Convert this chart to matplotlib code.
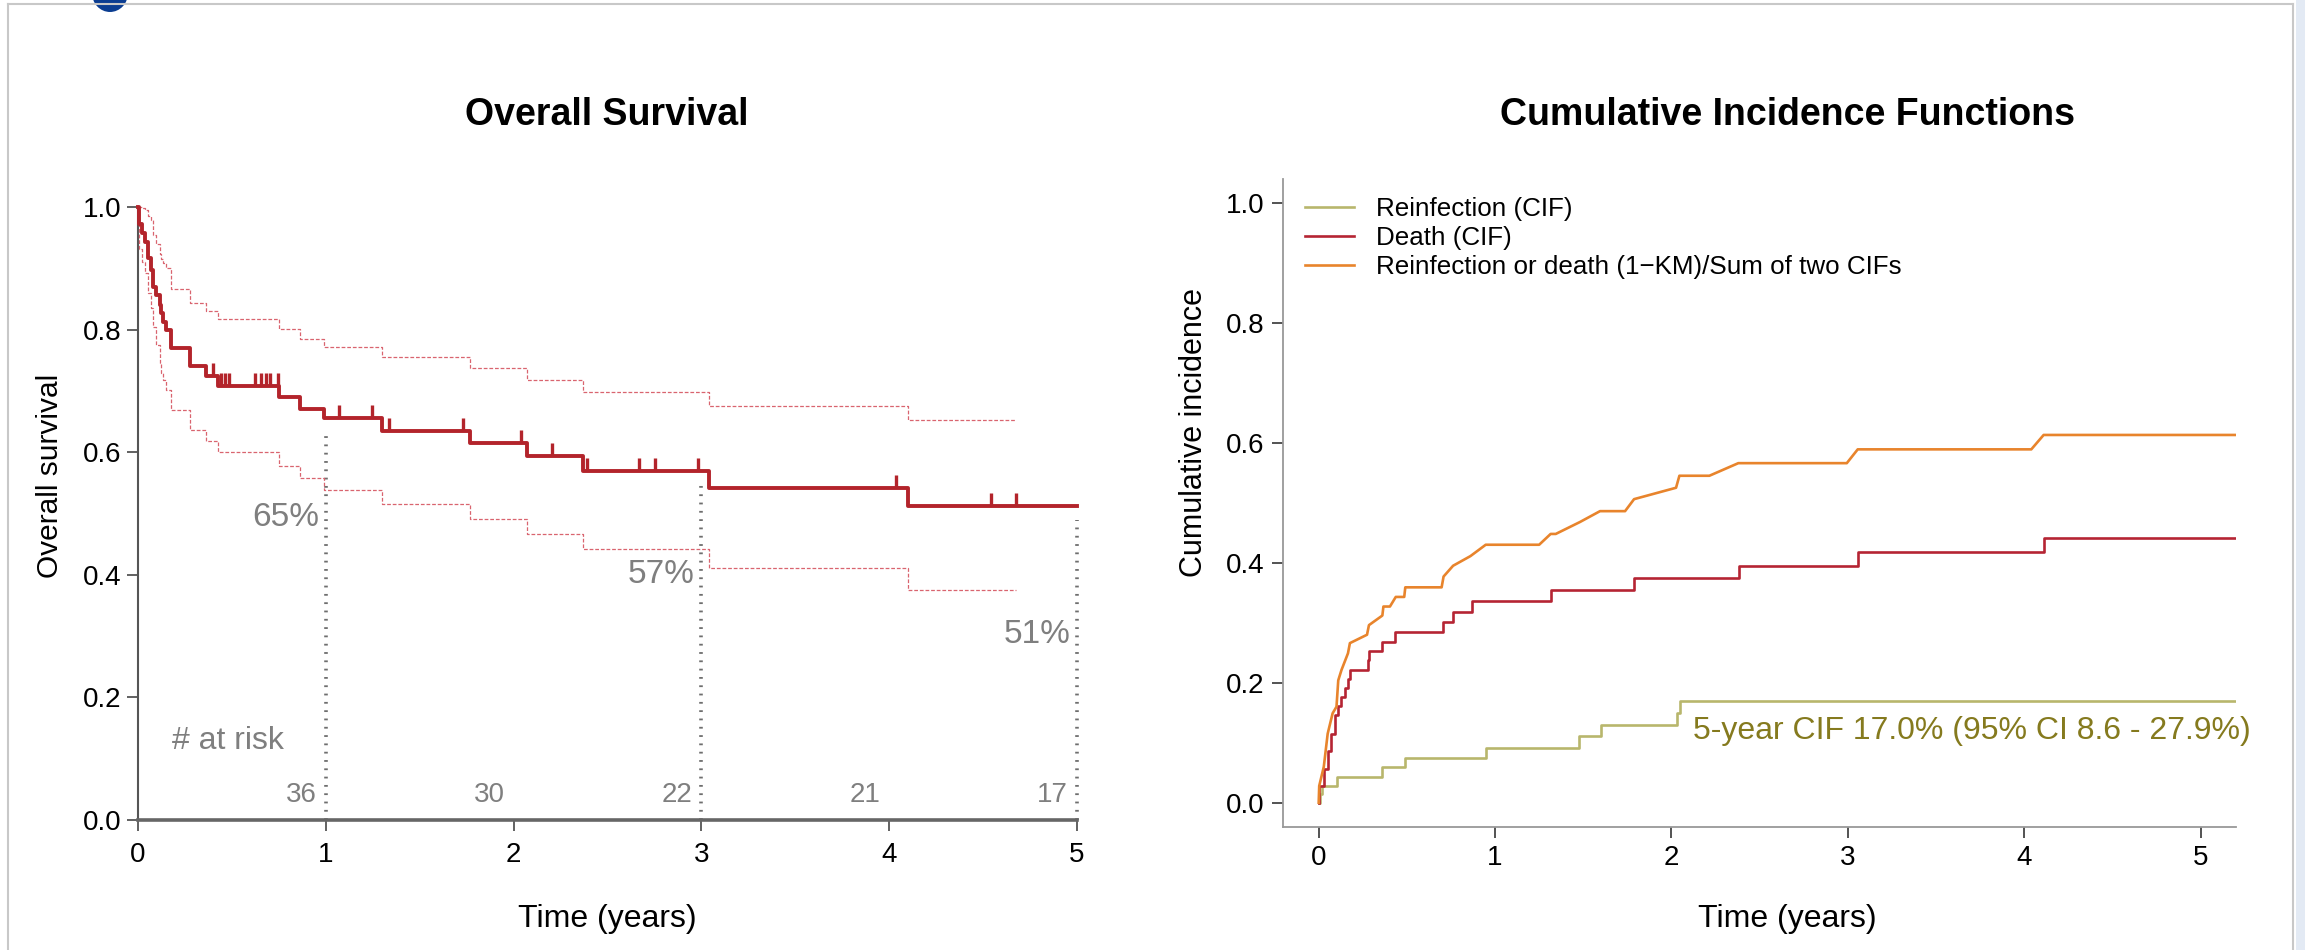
import numpy as np
import matplotlib
matplotlib.use('Agg')
import matplotlib.pyplot as plt
from matplotlib.lines import Line2D
from matplotlib.patches import Ellipse, Rectangle

plt.rcParams['font.family'] = ['Liberation Sans', 'DejaVu Sans']

# --- Overall survival (Kaplan-Meier) ---
km_time = [0.0, 0.005, 0.023, 0.036, 0.053, 0.071, 0.080, 0.098, 0.115, 0.124,
           0.133, 0.151, 0.178, 0.275, 0.361, 0.426, 0.751, 0.865, 0.989, 1.30,
           1.77, 2.07, 2.37, 3.04, 4.10]
km_surv = [1.0, 0.973, 0.957, 0.943, 0.916, 0.897, 0.870, 0.856, 0.840, 0.827,
           0.813, 0.799, 0.770, 0.740, 0.724, 0.708, 0.690, 0.671, 0.655, 0.635,
           0.615, 0.593, 0.570, 0.542, 0.512]
km_end = 5.0
ci_upper = [1.0, 1.0, 0.998, 0.995, 0.985, 0.978, 0.954, 0.940, 0.924, 0.915,
            0.908, 0.900, 0.867, 0.843, 0.830, 0.817, 0.801, 0.785, 0.772, 0.755,
            0.737, 0.717, 0.699, 0.676, 0.652]
ci_lower = [1.0, 0.932, 0.910, 0.892, 0.860, 0.835, 0.805, 0.775, 0.745, 0.730,
            0.718, 0.702, 0.669, 0.636, 0.618, 0.601, 0.578, 0.558, 0.538, 0.515,
            0.491, 0.467, 0.442, 0.411, 0.375]
ci_end = 4.675
censor_time = [0.400, 0.444, 0.462, 0.483, 0.622, 0.657, 0.684, 0.705, 0.746,
               1.07, 1.245, 1.335, 1.73, 2.04, 2.205, 2.39, 2.67, 2.755, 2.98,
               4.035, 4.54, 4.675]
milestone_time = [1, 3, 5]
milestone_top = [0.637, 0.555, 0.49]
milestone_label = ['65%', '57%', '51%']
risk_time = [1, 2, 3, 4, 5]
risk_n = [36, 30, 22, 21, 17]

# --- Cumulative incidence ---
reinf_time = [0.0, 0.010, 0.020, 0.105, 0.361, 0.487, 0.947, 1.478, 1.602, 2.031, 2.047]
reinf_cif = [0.0, 0.014, 0.028, 0.043, 0.059, 0.075, 0.092, 0.111, 0.130, 0.149, 0.170]
death_time = [0.0, 0.001, 0.029, 0.051, 0.068, 0.094, 0.112, 0.129, 0.151, 0.166,
              0.177, 0.281, 0.285, 0.361, 0.433, 0.704, 0.762, 0.871, 1.315,
              1.788, 2.383, 3.06, 4.11]
death_cif = [0.0, 0.028, 0.057, 0.087, 0.115, 0.146, 0.161, 0.177, 0.192, 0.207,
             0.222, 0.238, 0.253, 0.268, 0.284, 0.301, 0.318, 0.336, 0.354,
             0.374, 0.395, 0.418, 0.442]
both_time = [0.0, 0.003, 0.029, 0.051, 0.079, 0.101, 0.111, 0.129, 0.166, 0.177,
             0.274, 0.285, 0.361, 0.367, 0.404, 0.437, 0.485, 0.491, 0.697, 0.708,
             0.762, 0.860, 0.947, 1.250, 1.315, 1.344, 1.482, 1.595, 1.737, 1.788,
             2.026, 2.045, 2.215, 2.379, 2.994, 3.056, 4.04, 4.11, 5.2]
both_cif = [0.0, 0.028, 0.060, 0.115, 0.149, 0.160, 0.204, 0.221, 0.249, 0.266,
            0.280, 0.296, 0.312, 0.327, 0.327, 0.343, 0.343, 0.359, 0.359, 0.377,
            0.395, 0.411, 0.430, 0.430, 0.448, 0.448, 0.468, 0.486, 0.486, 0.506,
            0.525, 0.545, 0.545, 0.566, 0.566, 0.589, 0.589, 0.613, 0.613]
cif_end = 5.2

KM_RED = '#b3242b'
CI_RED = '#d9646f'
GREY_TXT = '#7f7f7f'
C_REINF = '#b8b66c'
C_DEATH = '#b52433'
C_BOTH = '#e8842c'
C_NOTE = '#857a1e'

W, H = 2305, 950
fig = plt.figure(figsize=(W / 100, H / 100), dpi=100)

# slide decoration
fig.add_artist(Rectangle((2296 / W, 0), 9 / W, 1, transform=fig.transFigure,
                         color='#e3eaf4', lw=0))
for xs, ys in [([8, 8], [0, 946]), ([8, 2293], [946, 946]), ([2293, 2293], [0, 946])]:
    fig.add_artist(Line2D([x / W for x in xs], [y / H for y in ys],
                          transform=fig.transFigure, color='#c8c8c8', lw=1.5))
fig.add_artist(Ellipse((110 / W, 1 + 7 / H), 36 / W, 38 / H, transform=fig.transFigure,
                       color='#0b3d91', lw=0))

# ---------------- left panel ----------------
ax1 = fig.add_axes([138 / W, 1 - 820 / H, 939 / W, 613 / H])
ax1.set_xlim(0, 5)
ax1.set_ylim(0, 1)

t = np.append(km_time, km_end)
s = np.append(km_surv, km_surv[-1])
ax1.step(t, s, where='post', color=KM_RED, lw=2.8, clip_on=False, zorder=4)

tc = np.append(km_time, ci_end)
ax1.step(tc, np.append(ci_upper, ci_upper[-1]), where='post', color=CI_RED,
         lw=0.9, ls=(0, (3, 1.5)), clip_on=False, zorder=3)
ax1.step(tc, np.append(ci_lower, ci_lower[-1]), where='post', color=CI_RED,
         lw=0.9, ls=(0, (3, 1.5)), zorder=3)

idx = np.searchsorted(km_time, censor_time, side='right') - 1
cs = np.array(km_surv)[idx]
ax1.plot(censor_time, cs, ls='none', marker=2, ms=9.5, mew=2.4, color=KM_RED, zorder=5)

ax1.vlines(milestone_time, 0, milestone_top, colors='#6e6e6e', lw=2.6,
           linestyles=(0, (0.5, 1.8)), clip_on=False, zorder=2)
for mt, lab, ly in zip(milestone_time, milestone_label, [0.494, 0.40, 0.302]):
    ax1.text(mt - 0.035, ly, lab, ha='right', va='center', fontsize=24, color=GREY_TXT)

ax1.text(0.18, 0.129, '# at risk', ha='left', va='center', fontsize=23, color=GREY_TXT)
for rt, n in zip(risk_time, risk_n):
    ax1.text(rt - 0.13, 0.04, str(n), ha='center', va='center', fontsize=20, color=GREY_TXT)

ax1.spines['top'].set_visible(False)
ax1.spines['right'].set_visible(False)
ax1.spines['left'].set_color('#555555')
ax1.spines['left'].set_linewidth(1.5)
ax1.spines['bottom'].set_color('#666666')
ax1.spines['bottom'].set_linewidth(2.6)
ax1.set_xticks(range(6))
ax1.set_yticks(np.arange(0, 1.01, 0.2))
ax1.set_yticklabels([f'{v:.1f}' for v in np.arange(0, 1.01, 0.2)])
ax1.tick_params(axis='y', length=8, width=1.3, color='#555555', pad=4, labelsize=20)
ax1.tick_params(axis='x', length=8, width=1.3, color='#555555', pad=8, labelsize=20)

# ---------------- right panel ----------------
ax2 = fig.add_axes([1282.7 / W, 1 - 826.7 / H, 953.2 / W, 647.9 / H])
ax2.set_xlim(-0.204, cif_end)
ax2.set_ylim(-0.04, 1.04)

l1, = ax2.step(np.append(reinf_time, cif_end), np.append(reinf_cif, reinf_cif[-1]),
               where='post', color=C_REINF, lw=1.9, label='Reinfection (CIF)')
l2, = ax2.step(np.append(death_time, cif_end), np.append(death_cif, death_cif[-1]),
               where='post', color=C_DEATH, lw=1.9, label='Death (CIF)')
l3, = ax2.plot(both_time, both_cif, color=C_BOTH, lw=1.9,
               label='Reinfection or death (1\u2212KM)/Sum of two CIFs')

ax2.legend(handles=[l1, l2, l3], loc='upper left', bbox_to_anchor=(0.0234, 0.972),
           frameon=False, fontsize=18.7, handlelength=1.87, handletextpad=0.86,
           labelspacing=0.19, borderpad=0, borderaxespad=0)

ax2.text(2.124, 0.12, '5-year CIF 17.0% (95% CI 8.6 - 27.9%)', color=C_NOTE,
         fontsize=23, va='center', ha='left')

ax2.spines['top'].set_visible(False)
ax2.spines['right'].set_visible(False)
for sp in ('left', 'bottom'):
    ax2.spines[sp].set_color('#999999')
    ax2.spines[sp].set_linewidth(1.3)
ax2.set_xticks(range(6))
ax2.set_yticks(np.arange(0, 1.01, 0.2))
ax2.set_yticklabels([f'{v:.1f}' for v in np.arange(0, 1.01, 0.2)])
ax2.tick_params(axis='both', length=8, width=1.3, color='#444444', pad=5, labelsize=20)

# ---------------- titles and labels ----------------
fig.text(607 / W, 0.879, 'Overall Survival', ha='center', va='center',
         fontsize=27, fontweight='bold')
fig.text(1787 / W, 0.879, 'Cumulative Incidence Functions', ha='center', va='center',
         fontsize=27, fontweight='bold')
fig.text(607 / W, 0.0326, 'Time (years)', ha='center', va='center', fontsize=23)
fig.text(1787 / W, 0.0326, 'Time (years)', ha='center', va='center', fontsize=23)
fig.text(50 / W, 0.499, 'Overall survival', rotation=90, ha='center', va='center',
         fontsize=21.5)
fig.text(1193.6 / W, 0.545, 'Cumulative incidence', rotation=90, ha='center',
         va='center', fontsize=22)

fig.savefig('out.png', dpi=100)
